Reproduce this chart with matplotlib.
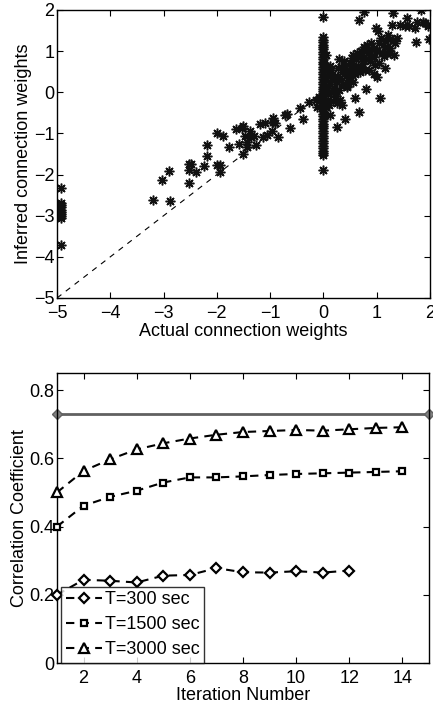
import matplotlib
matplotlib.use("Agg")
import matplotlib.pyplot as plt
import numpy as np

plt.rcParams['font.family'] = ['Liberation Sans', 'DejaVu Sans']
plt.rcParams['font.size'] = 13

# ---------------- Top panel data ----------------
left_x = [-4.93] * 10
left_y = [-2.33, -2.70, -2.75, -2.80, -2.85, -2.90, -2.95, -3.00, -3.05, -3.70]

mid_x = [-3.19, -3.03, -2.89, -2.88, -2.53, -2.53, -2.53, -2.49, -2.39, -2.25,
         -2.18, -2.18, -2.00, -1.99, -1.95, -1.94, -1.88, -1.78, -1.64, -1.59,
         -1.53, -1.50, -1.50, -1.48, -1.44, -1.43, -1.38, -1.36, -1.31, -1.26,
         -1.19, -1.13, -1.09, -1.06, -0.97, -0.95, -0.94, -0.90, -0.86, -0.72,
         -0.69, -0.63, -0.44, -0.39, -0.28, -0.14, -0.13, -0.09]
mid_y = [-2.61, -2.14, -1.91, -2.65, -1.75, -1.90, -2.21, -1.75, -1.93, -1.78,
         -1.56, -1.29, -0.99, -1.76, -1.76, -1.93, -1.07, -1.34, -0.90, -1.25,
         -0.86, -0.82, -1.50, -1.07, -1.32, -1.22, -0.95, -1.09, -1.06, -1.27,
         -0.78, -1.09, -0.74, -1.03, -0.95, -0.63, -0.73, -0.75, -1.09, -0.56,
         -0.53, -0.86, -0.39, -0.65, -0.24, -0.18, -0.36, -0.12]

col_y = [-1.90, -1.52, -1.47, -1.42, -1.36, -1.30, -1.24, -1.18, -1.12, -1.06,
         -1.00, -0.94, -0.88, -0.82, -0.76, -0.70, -0.64, -0.58, -0.52, -0.46,
         -0.40, -0.34, -0.28, -0.22, -0.16, -0.10, -0.04, 0.02, 0.08, 0.14,
         0.20, 0.26, 0.32, 0.38, 0.44, 0.50, 0.56, 0.62, 0.68, 0.74, 0.80,
         0.86, 0.92, 0.98, 1.04, 1.10, 1.16, 1.22, 1.28, 1.34, 1.82]
col_x = [0.0] * len(col_y)

right_x = [0.09, 0.13, 0.19, 0.25, 0.26, 0.31, 0.33, 0.38, 0.41, 0.44,
           0.50, 0.53, 0.56, 0.59, 0.63, 0.66, 0.66, 0.69, 0.72, 0.75,
           0.76, 0.78, 0.80, 0.81, 0.84, 0.88, 0.91, 0.94, 0.97, 0.99,
           1.00, 1.03, 1.06, 1.08, 1.13, 1.16, 1.19, 1.22, 1.25, 1.28,
           1.30, 1.31, 1.33, 1.34, 1.38, 1.44, 1.53, 1.56, 1.61, 1.72,
           1.74, 1.75, 1.84, 1.86, 1.91, 1.96, 1.98,
           0.05, 0.06, 0.08, 0.10, 0.12, 0.14, 0.15, 0.17, 0.20, 0.22,
           0.24, 0.26, 0.28, 0.30, 0.32, 0.35, 0.37, 0.40, 0.42, 0.45,
           0.47, 0.50, 0.52, 0.55, 0.58, 0.60, 0.62, 0.65, 0.68, 0.70,
           0.73, 0.76, 0.80, 0.85, 0.90, 0.95, 1.00, 1.05, 1.10, 1.15,
           1.20, 1.25, 0.03, 0.05, 0.10, 0.18, 0.35, 0.02, 0.04, 0.08,
           0.12, 0.22, 0.30, 0.45, 0.55, 0.85, 0.95, 1.05, 1.15, 1.25]
right_y = [-0.18, -0.55, 0.38, -0.27, -0.85, -0.18, 0.62, 0.75, -0.64, 0.14,
           0.38, 0.83, 0.62, -0.14, 0.95, -0.48, 1.76, 0.50, 0.62, 0.75,
           1.96, 0.54, 0.07, 1.15, 0.95, 0.75, 0.87, 1.07, 0.66, 1.56,
           0.38, 1.48, -0.13, 1.31, 0.87, 1.11, 0.95, 1.39, 1.07, 1.64,
           1.92, 1.27, 0.91, 1.19, 1.31, 1.64, 1.60, 1.80, 1.60, 1.56,
           1.23, 1.72, 2.00, 1.72, 1.68, 1.60, 1.29,
           0.35, 0.10, -0.05, 0.45, 0.20, 0.00, 0.55, 0.30, 0.10, 0.40,
           -0.10, 0.25, 0.60, 0.05, 0.35, 0.50, 0.20, 0.65, 0.40, 0.55,
           0.30, 0.70, 0.50, 0.90, 0.60, 0.45, 0.80, 0.65, 0.85, 1.00,
           0.90, 1.10, 0.80, 1.05, 1.20, 0.85, 1.00, 1.20, 0.95, 1.25,
           1.10, 1.30, -0.20, -0.35, -0.30, -0.20, -0.30, 0.70, 0.90, 0.60,
           0.65, -0.05, 0.80, 0.15, 0.25, 0.55, 0.45, 0.70, 0.60, 0.95]

ref_x = [-5, 0]
ref_y = [-5, 0]

# ---------------- Bottom panel data ----------------
iters_300 = list(range(1, 13))
corr_300 = [0.200, 0.244, 0.241, 0.236, 0.256, 0.258, 0.278, 0.266, 0.265, 0.269, 0.265, 0.271]
iters_1500 = list(range(1, 15))
corr_1500 = [0.400, 0.461, 0.487, 0.505, 0.529, 0.544, 0.544, 0.547, 0.551, 0.554, 0.556, 0.558, 0.560, 0.562]
iters_3000 = list(range(1, 15))
corr_3000 = [0.500, 0.563, 0.597, 0.626, 0.644, 0.658, 0.669, 0.677, 0.680, 0.683, 0.681, 0.685, 0.689, 0.691]
ref_line_x = [1, 15]
ref_line_y = [0.73, 0.73]
labels = ['T=300 sec', 'T=1500 sec', 'T=3000 sec']

fig = plt.figure(figsize=(4.33, 7.06), dpi=100)

def style_axes(ax):
    ax.tick_params(direction='in', top=True, right=True, length=4, width=0.8, labelsize=13, pad=2)
    ax.tick_params(axis='x', pad=5)
    for s in ax.spines.values():
        s.set_linewidth(1.0)

# Top axes
ax1 = fig.add_axes([57/433, 1 - 298/706, 373/433, 288/706])
ax1.plot(ref_x, ref_y, linestyle=(0, (5, 5)), color='black', linewidth=0.8, zorder=1)
star = (8, 2, 0)
allx = left_x + mid_x + col_x + right_x
ally = left_y + mid_y + col_y + right_y
ax1.plot(allx, ally, linestyle='none', marker=star, markersize=7, markeredgewidth=1.1,
         color='black', markeredgecolor='#111111', zorder=2)
ax1.set_xlim(-5, 2)
ax1.set_ylim(-5, 2)
ax1.set_xticks(range(-5, 3))
ax1.set_yticks(range(-5, 3))
ax1.set_xticklabels(['\u22125', '\u22124', '\u22123', '\u22122', '\u22121', '0', '1', '2'])
ax1.set_yticklabels(['\u22125', '\u22124', '\u22123', '\u22122', '\u22121', '0', '1', '2'])
ax1.set_xlabel('Actual connection weights', fontsize=13, labelpad=1)
ax1.set_ylabel('Inferred connection weights', fontsize=13, labelpad=1)
style_axes(ax1)

# Bottom axes
ax2 = fig.add_axes([57/433, 1 - 663/706, 372/433, 290/706])
dash = (0, (4, 3))
ax2.plot(ref_line_x, ref_line_y, color='#606060', linewidth=2, marker='D', markersize=5,
         markerfacecolor='#808080', markeredgecolor='#606060', zorder=2, clip_on=False)
ax2.plot(iters_300, corr_300, linestyle=dash, color='black', linewidth=1.5, marker='D',
         markersize=5.5, markerfacecolor='white', markeredgewidth=1.6, label=labels[0], clip_on=False, zorder=3)
ax2.plot(iters_1500, corr_1500, linestyle=dash, color='black', linewidth=1.5, marker='s',
         markersize=5, markerfacecolor='white', markeredgewidth=1.6, label=labels[1], clip_on=False, zorder=3)
ax2.plot(iters_3000, corr_3000, linestyle=dash, color='black', linewidth=1.5, marker='^',
         markersize=7.5, markerfacecolor='white', markeredgewidth=1.6, label=labels[2], clip_on=False, zorder=3)
ax2.set_xlim(1, 15)
ax2.set_ylim(0, 0.85)
ax2.set_xticks([2, 4, 6, 8, 10, 12, 14])
ax2.set_yticks([0, 0.2, 0.4, 0.6, 0.8])
ax2.set_yticklabels(['0', '0.2', '0.4', '0.6', '0.8'])
ax2.set_xlabel('Iteration Number', fontsize=13, labelpad=0)
ax2.set_ylabel('Correlation Coefficient', fontsize=13, labelpad=1)
style_axes(ax2)
leg = ax2.legend(loc='lower left', bbox_to_anchor=(0.012, 0.0), borderaxespad=0,
                 fontsize=13, frameon=True, fancybox=False, handlelength=2.0,
                 handletextpad=0.15, labelspacing=0.45, borderpad=0.25)
leg.get_frame().set_edgecolor('black')
leg.get_frame().set_linewidth(1.0)
leg.set_zorder(5)

fig.savefig('out.png', dpi=100)
